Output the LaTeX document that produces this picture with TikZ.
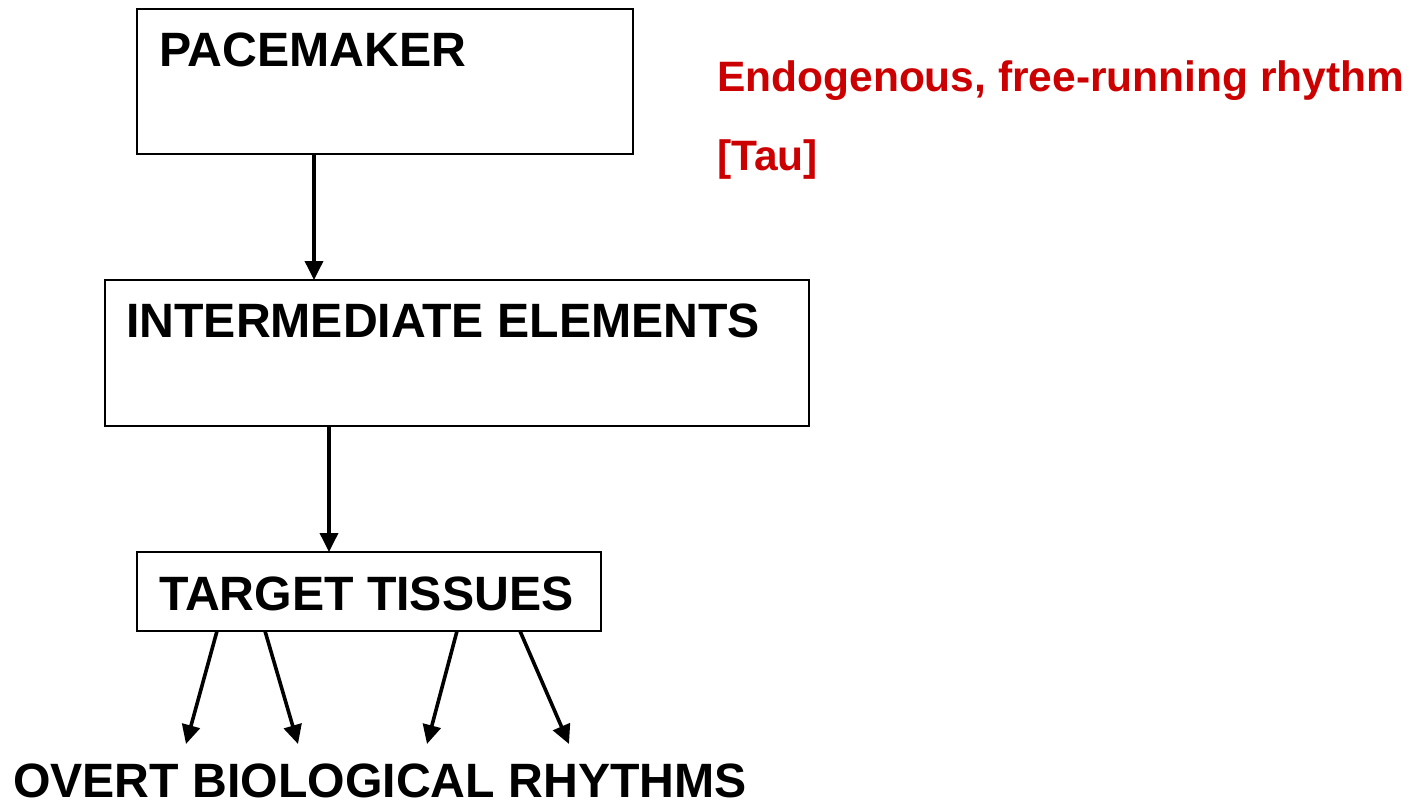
\documentclass[tikz,border=0pt]{standalone}
\usepackage{fontspec}
\setmainfont{Liberation Sans}
\usetikzlibrary{arrows.meta}
\definecolor{redtxt}{HTML}{CC0000}
\begin{document}
\begin{tikzpicture}[x=1pt,y=-1pt,
  box/.style={draw,line width=2pt},
  conn/.style={line width=3.6pt,-{Triangle[length=19pt,width=18pt]}},
  big/.style={inner sep=0pt,anchor=base west,text depth=0pt,font=\bfseries\fontsize{48.2}{56}\selectfont},
  red/.style={inner sep=0pt,anchor=base west,text=redtxt,font=\bfseries\fontsize{42.5}{48}\selectfont}]
\useasboundingbox (0,0) rectangle (1427,804);
\draw[box] (137,9) rectangle (633,154);
\draw[box] (105,280) rectangle (809,426);
\draw[box] (137,552) rectangle (601,631);
\node[big] (pm) at (159,66) {PACEMAKER};
\node[big] (ie) at (126,337) {INTERMEDIATE ELEMENTS};
\node[big] (tt) at (159,610) {TARGET TISSUES};
\node[big] (ov) at (13,797) {OVERT BIOLOGICAL RHYTHMS};
\node[red] (en) at (717,91) {Endogenous, free-running rhythm};
\node[red] (tau) at (717,170) {[Tau]};
\coordinate (p1) at (314,154); \coordinate (i1) at (314,280);
\coordinate (i2) at (329,426); \coordinate (t1) at (329,552);
\coordinate (a0) at (217,631); \coordinate (a1) at (186,744);
\coordinate (b0) at (265,631); \coordinate (b1) at (298,744);
\coordinate (c0) at (457,631); \coordinate (c1) at (427,744);
\coordinate (d0) at (520,631); \coordinate (d1) at (569,744);
\draw[conn] (p1) -- (i1);
\draw[conn] (i2) -- (t1);
\draw[conn] (a0) -- (a1);
\draw[conn] (b0) -- (b1);
\draw[conn] (c0) -- (c1);
\draw[conn] (d0) -- (d1);
\end{tikzpicture}
\end{document}
